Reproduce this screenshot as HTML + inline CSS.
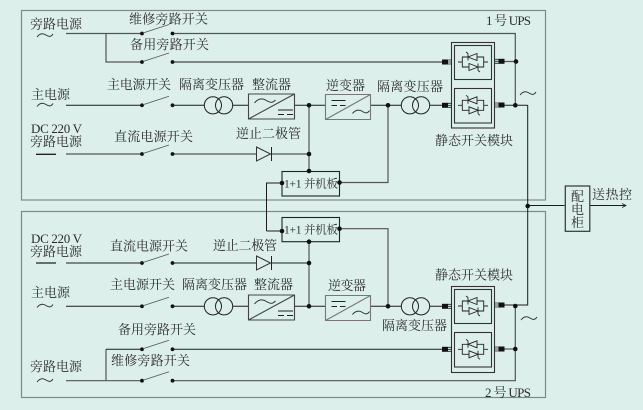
<!DOCTYPE html>
<html><head><meta charset="utf-8"><style>
html,body{margin:0;padding:0;background:#dcefeb;width:643px;height:410px;overflow:hidden}
svg{display:block}
text{font-family:"Liberation Serif","Noto Serif CJK SC",serif;font-size:13px;fill:#2c2c2c}
.l{fill:none;stroke:#1c1c1c;stroke-width:1}
.g{fill:none;stroke:#555;stroke-width:1.2}
.b{fill:none;stroke:#777;stroke-width:1.1}
</style></head><body>
<svg width="643" height="410" viewBox="0 0 643 410" xmlns="http://www.w3.org/2000/svg">
<defs>
<g id="sw"><circle cx="0" cy="0" r="1.9" fill="#111"/><circle cx="30.5" cy="0" r="1.9" fill="#111"/><path d="M1 -.5L27 -9" fill="none" stroke="#555" stroke-width=".8"/></g>
<g id="tr"><circle cx="-5.6" cy="0" r="8.6" fill="none" stroke="#222" stroke-width="1"/><circle cx="5.6" cy="0" r="8.6" fill="none" stroke="#222" stroke-width="1"/></g>
<g id="scr" fill="none" stroke="#222" stroke-width=".9">
<path d="M-15 0H-10.7M10.7 0H15M-10.7 -5H10.7V5H-10.7Z"/>
<path d="M4 -8.5V-1.5L-5 -5ZM-5 -8.5V-1.5M-5 -8.5L-7 -10" fill="#dcefeb"/>
<path d="M-4 1.5V8.5L5 5ZM5 1.5V8.5M5 8.5L7 10" fill="#dcefeb"/>
</g>
<g id="cn"><rect x="0" y="-2.5" width="6" height="5" fill="#111"/><path d="M6 -2H10M6 0H10M6 2H10" stroke="#222" stroke-width=".8"/></g>
<g id="cnr"><rect x="4" y="-2.5" width="6" height="5" fill="#111"/><path d="M0 -2H4M0 0H4M0 2H4" stroke="#222" stroke-width=".8"/></g>
<path id="t" d="M0 2C3 -2 6 -2 9 0S14 2 16 -1" fill="none" stroke="#333" stroke-width="1"/>
<g id="ad"><path d="M0 25L46 0M0 0H46V25H0Z" fill="none" stroke="#444" stroke-width="1.1"/><path d="M6 9C10 4 14 4 18 6.500S24 9 27 6" fill="none" stroke="#333" stroke-width="1"/><path d="M30 16H45M30 20.500H36M39 20.500H45" stroke="#222" stroke-width="1" fill="none" transform="translate(-.500 0)"/></g>
<g id="da"><path d="M0 25L45 0M0 0H45V25H0Z" fill="none" stroke="#777" stroke-width="1.1"/><path d="M6 6H20M6 11H11.500M14.500 11H20" stroke="#222" stroke-width="1" fill="none"/><path d="M27 19C30 15 34 15 37 17S42 19 44 16" fill="none" stroke="#333" stroke-width="1"/></g>
<g id="di"><path d="M0 -7L14 0L0 7Z" fill="#dcefeb" stroke="#333" stroke-width="1"/><path d="M15 -7V7" stroke="#222" stroke-width="1"/></g>
<circle id="d" r="2.300" fill="#111"/>
</defs>

<rect x="21.500" y="10.500" width="524" height="189.500" fill="none" stroke="#7f8a88" stroke-width="1.2"/>
<rect x="21.500" y="211.500" width="524" height="186" fill="none" stroke="#7f8a88" stroke-width="1.2"/>

<!-- UPS 1 wires -->
<path class="g" d="M66 33.500H142M172.500 33.500H515.300V105M106 33.500V62H142"/>
<path class="l" d="M172.500 62H442M66 105.300H142M172.500 105.300H204M233 105.300H248M294 105.300H325M370.500 105.300H401M430 105.300H442M504 105.300H527.500"/>
<path class="g" d="M66 154H142M172.500 154H256M271 154H309M309 105.300V171M504 61.500H515M388 105.300V182.500H339.500"/>
<path class="l" d="M266.500 231V183H282M266.500 231H282"/>
<path class="l" stroke-width="1.200" d="M527.700 105V305H504M527.700 205.500H564.500M590 205.500H626"/>
<path d="M622 203.500L626 205.500L622 207.500" fill="none" stroke="#222" stroke-width=".8"/>

<!-- UPS 2 wires -->
<path class="g" d="M339.500 228.700H388V306M309 241.700V306M66 380.700H142M172.500 380.700H515.300V306M106 380.700V349.300"/>
<path class="l" d="M106 349.300H142M172.500 349.300H442M66 263H142M172.500 263H256M271 263H309M66 306.300H142M172.500 306.300H204M233 306.300H248M294 306.300H325M370.500 306.300H401M430 306.300H442"/>
<path class="g" d="M504 349H515"/>

<use href="#sw" x="142" y="33.500"/><use href="#sw" x="142" y="62"/><use href="#sw" x="142" y="105.300"/><use href="#sw" x="142" y="154"/>
<use href="#sw" x="142" y="263"/><use href="#sw" x="142" y="306.300"/><use href="#sw" x="142" y="349.300"/><use href="#sw" x="142" y="380.700"/>
<use href="#tr" x="218.500" y="105.300"/><use href="#tr" x="415.500" y="105.300"/><use href="#tr" x="218.500" y="306.300"/><use href="#tr" x="415.500" y="306.300"/>
<use href="#ad" x="248.500" y="94"/><use href="#ad" x="248.500" y="295"/>
<use href="#da" x="325.500" y="94.500"/><use href="#da" x="325.500" y="295.500"/>
<use href="#di" x="256.500" y="154"/><use href="#di" x="256.500" y="263"/>

<!-- parallel boards -->
<rect x="282" y="171.500" width="57.500" height="24.500" fill="#dcefeb" stroke="#222" stroke-width="1.100"/>
<rect x="282" y="217.500" width="57.500" height="24.200" fill="#dcefeb" stroke="#222" stroke-width="1.100"/>

<!-- static switch modules -->
<rect x="451.500" y="42.500" width="43" height="85.500" fill="none" stroke="#333" stroke-width="1.100"/>
<rect x="454.500" y="45.500" width="37" height="34" fill="none" stroke="#333" stroke-width="1.100"/>
<rect x="454.500" y="88.500" width="37" height="34.500" fill="none" stroke="#333" stroke-width="1.100"/>
<rect x="451.500" y="286.500" width="43" height="86" fill="none" stroke="#333" stroke-width="1.100"/>
<rect x="454.500" y="289.500" width="37" height="34" fill="none" stroke="#333" stroke-width="1.100"/>
<rect x="454.500" y="332.500" width="37" height="34.500" fill="none" stroke="#333" stroke-width="1.100"/>
<use href="#scr" x="473" y="62"/><use href="#scr" x="473" y="105.300"/><use href="#scr" x="473" y="306"/><use href="#scr" x="473" y="349.300"/>
<use href="#cn" x="442" y="62"/><use href="#cn" x="442" y="105.300"/><use href="#cn" x="442" y="306.300"/><use href="#cn" x="442" y="349.300"/>
<use href="#cnr" x="494.500" y="61.300"/><use href="#cnr" x="494.500" y="105"/><use href="#cnr" x="494.500" y="305"/><use href="#cnr" x="494.500" y="349"/>

<!-- junction dots -->
<use href="#d" x="309" y="105.300"/><use href="#d" x="309" y="154"/><use href="#d" x="309" y="171"/>
<use href="#d" x="282" y="183"/><use href="#d" x="339.500" y="182.500"/><use href="#d" x="388" y="105.300"/>
<use href="#d" x="516" y="61.500"/><use href="#d" x="515.300" y="105.300"/><use href="#d" x="527.700" y="206"/>
<use href="#d" x="282" y="231"/><use href="#d" x="339.500" y="228.700"/><use href="#d" x="309" y="241.700"/><use href="#d" x="309" y="263"/><use href="#d" x="309" y="306.300"/><use href="#d" x="388" y="306.300"/>
<use href="#d" x="515.300" y="306"/><use href="#d" x="515.300" y="349"/>

<!-- cabinet -->
<rect x="565.300" y="186" width="24.500" height="45.300" fill="#dcefeb" stroke="#333" stroke-width="1.200"/>

<!-- source symbols -->
<use href="#t" x="37" y="35"/><use href="#t" x="37" y="104.500"/><use href="#t" x="37" y="305.500"/><use href="#t" x="37" y="380"/>
<path d="M36 154.300H56M36 263H56" stroke="#222" stroke-width="1.300"/>
<use href="#t" x="520" y="93"/><use href="#t" x="521" y="318"/>

<!-- labels -->
<text x="30" y="28.500" textLength="52">旁路电源</text>
<text x="129" y="23.500" textLength="79">维修旁路开关</text>
<text x="130" y="49" textLength="79">备用旁路开关</text>
<text x="107" y="89" textLength="64">主电源开关</text>
<text x="179" y="89" textLength="65">隔离变压器</text>
<text x="252" y="89" textLength="39">整流器</text>
<text x="31" y="99" textLength="39">主电源</text>
<text x="31" y="133" textLength="51">DC 220 V</text>
<text x="30" y="146" textLength="52">旁路电源</text>
<text x="114" y="141" textLength="79">直流电源开关</text>
<text x="236" y="138" textLength="65">逆止二极管</text>
<text x="284" y="187.500" textLength="54" style="font-size:11.500px">1+1 并机板</text>
<text x="284" y="233.500" textLength="54" style="font-size:11.500px">1+1 并机板</text>
<text x="326" y="90" textLength="39">逆变器</text>
<text x="377" y="91" textLength="66">隔离变压器</text>
<text x="435" y="145" textLength="78">静态开关模块</text>
<text x="486" y="25" textLength="45">1 号 UPS</text>

<text x="592" y="199" textLength="40">送热控</text>
<text x="571" y="201">配</text>
<text x="571" y="214">电</text>
<text x="571" y="227">柜</text>

<text x="31" y="243" textLength="51">DC 220 V</text>
<text x="30" y="256" textLength="52">旁路电源</text>
<text x="110" y="250.500" textLength="78">直流电源开关</text>
<text x="213" y="250" textLength="64">逆止二极管</text>
<text x="110" y="289" textLength="65">主电源开关</text>
<text x="182" y="289" textLength="65">隔离变压器</text>
<text x="254" y="289" textLength="39">整流器</text>
<text x="31" y="297" textLength="39">主电源</text>
<text x="118" y="334" textLength="78">备用旁路开关</text>
<text x="111" y="365" textLength="79">维修旁路开关</text>
<text x="30" y="371" textLength="52">旁路电源</text>
<text x="328" y="290" textLength="38">逆变器</text>
<text x="435" y="279.500" textLength="78">静态开关模块</text>
<text x="382" y="330" textLength="65">隔离变压器</text>
<text x="485" y="397" textLength="46">2 号 UPS</text>
</svg>
</body></html>
